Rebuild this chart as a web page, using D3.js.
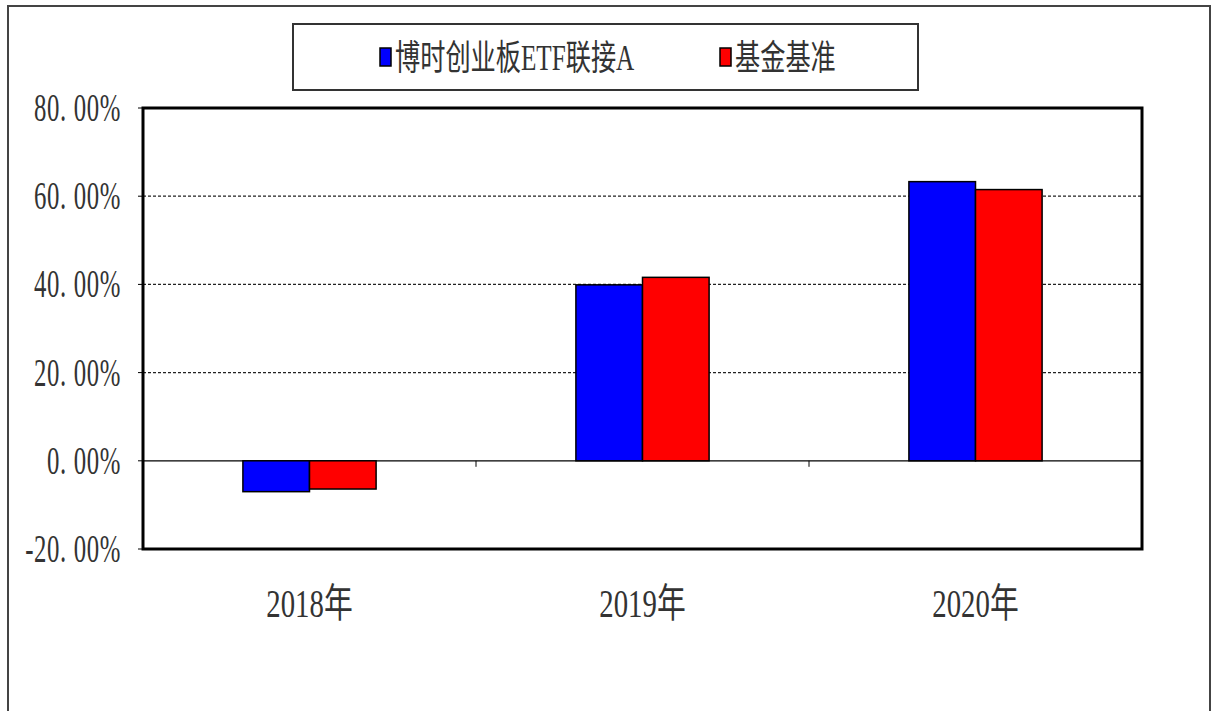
<!DOCTYPE html>
<html>
<head>
<meta charset="utf-8">
<script src="https://cdn.jsdelivr.net/npm/d3@7"></script>
<style>
  body { margin: 0; background: #fff; }
  text { fill: #333; font-family: "Liberation Serif", "Noto Sans CJK SC", serif; }
</style>
</head>
<body>
<svg width="1215" height="711"></svg>
<script>
const categories = ['2018年', '2019年', '2020年'];
const seriesNames = ['博时创业板ETF联接A', '基金基准'];
const fundValues = [-7.0, 39.9, 63.3];
const benchValues = [-6.4, 41.6, 61.5];
const yTicks = [-20, 0, 20, 40, 60, 80];

const colors = ['#0000ff', '#ff0000'];
const PLOT = { left: 143, right: 1142, top: 108, bottom: 549 };

const svg = d3.select('svg');

// outer frame
svg.append('path')
    .attr('d', 'M8,711 V6 H1210 V711')
    .attr('fill', 'none')
    .attr('stroke', '#444')
    .attr('stroke-width', 2);

const x0 = d3.scaleBand().domain(categories).range([PLOT.left, PLOT.right]);
const y = d3.scaleLinear().domain([-20, 80]).range([PLOT.bottom, PLOT.top]);
const barW = x0.bandwidth() * 0.2;

// dotted gridlines
svg.append('g')
    .selectAll('line')
    .data(yTicks.filter(t => t !== 0 && t !== 80 && t !== -20))
    .enter()
    .append('line')
    .attr('x1', PLOT.left).attr('x2', PLOT.right)
    .attr('y1', d => y(d)).attr('y2', d => y(d))
    .attr('stroke', '#222')
    .attr('stroke-width', 1.3)
    .attr('stroke-dasharray', '3,2');

// left axis ticks + labels
const yAxis = svg.append('g');
yAxis.selectAll('line')
    .data(yTicks)
    .enter()
    .append('line')
    .attr('x1', PLOT.left - 5).attr('x2', PLOT.left)
    .attr('y1', d => y(d)).attr('y2', d => y(d))
    .attr('stroke', '#000');

yAxis.selectAll('text')
    .data(yTicks)
    .enter()
    .append('text')
    .attr('transform', d => `translate(121, ${y(d) + 13}) scale(0.62, 1)`)
    .attr('text-anchor', 'end')
    .attr('font-size', 40)
    .attr('letter-spacing', 1)
    .text(d => d.toFixed(2).replace('.', '. ') + '%');

// zero line and category separators
svg.append('line')
    .attr('x1', PLOT.left).attr('x2', PLOT.right)
    .attr('y1', y(0)).attr('y2', y(0))
    .attr('stroke', '#000')
    .attr('stroke-width', 1.2);

svg.append('g')
    .selectAll('line')
    .data(categories.slice(1))
    .enter()
    .append('line')
    .attr('x1', d => x0(d)).attr('x2', d => x0(d))
    .attr('y1', y(0)).attr('y2', y(0) + 6)
    .attr('stroke', '#000');

// bars
const series = [fundValues, benchValues];
series.forEach((vals, si) => {
    svg.append('g')
        .selectAll('rect')
        .data(vals)
        .enter()
        .append('rect')
        .attr('x', (d, i) => x0(categories[i]) + x0.bandwidth() / 2 + (si - 1) * barW)
        .attr('y', d => y(Math.max(0, d)))
        .attr('width', barW)
        .attr('height', d => Math.abs(y(d) - y(0)))
        .attr('fill', colors[si])
        .attr('stroke', '#000')
        .attr('stroke-width', 1.5);
});

// plot border
svg.append('rect')
    .attr('x', PLOT.left).attr('y', PLOT.top)
    .attr('width', PLOT.right - PLOT.left)
    .attr('height', PLOT.bottom - PLOT.top)
    .attr('fill', 'none')
    .attr('stroke', '#000')
    .attr('stroke-width', 3);

// category labels
svg.append('g')
    .selectAll('text')
    .data(categories)
    .enter()
    .append('text')
    .attr('transform', d => `translate(${x0(d) + x0.bandwidth() / 2}, 617) scale(0.72, 1)`)
    .attr('text-anchor', 'middle')
    .attr('font-size', 40)
    .text(d => d);

// legend
svg.append('rect')
    .attr('x', 293).attr('y', 24)
    .attr('width', 625).attr('height', 66)
    .attr('fill', '#fff')
    .attr('stroke', '#333')
    .attr('stroke-width', 2);

const legendX = [380, 720];
const legend = svg.append('g')
    .selectAll('g')
    .data(seriesNames)
    .enter()
    .append('g')
    .attr('transform', (d, i) => `translate(${legendX[i]}, 0)`);

legend.append('rect')
    .attr('x', 0).attr('y', 48)
    .attr('width', 11).attr('height', 18)
    .attr('fill', (d, i) => colors[i])
    .attr('stroke', '#000')
    .attr('stroke-width', 1.5);

legend.append('text')
    .attr('transform', 'translate(15, 70) scale(0.72, 1)')
    .attr('font-size', 35)
    .text(d => d);
</script>
</body>
</html>
